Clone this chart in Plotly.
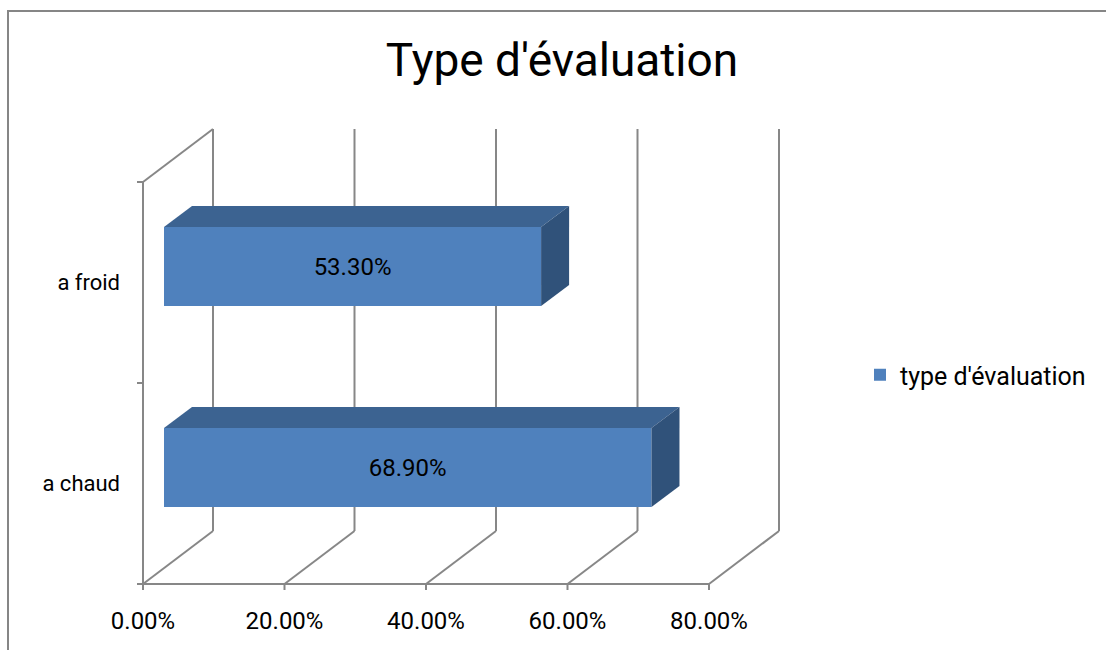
import plotly.graph_objects as go

# ---- data -------------------------------------------------------------
categories = ["a chaud", "a froid"]
values = [68.9, 53.3]          # percent
series_name = "type d'évaluation"
tick_values = [0, 20, 40, 60, 80]
tick_labels = ["0.00%", "20.00%", "40.00%", "60.00%", "80.00%"]
chart_title = "Type d'évaluation"

# ---- page / projection geometry (pixels) ------------------------------
W, H = 1106, 650
PLOT_L, PLOT_R, PLOT_T, PLOT_B = 10, 820, 100, 640
ORIGIN_X, ORIGIN_Y = 143, 584          # where value 0 / category floor sit
PX_PER_PCT = 7.075
PX_PER_CAT = 201
DEPTH_DX_PX, DEPTH_DY_PX = 70, 53      # oblique offset of the back wall

x_range = [(PLOT_L - ORIGIN_X) / PX_PER_PCT, (PLOT_R - ORIGIN_X) / PX_PER_PCT]
y_range = [-(PLOT_B - ORIGIN_Y) / PX_PER_CAT, (ORIGIN_Y - PLOT_T) / PX_PER_CAT]

DX = DEPTH_DX_PX / PX_PER_PCT          # depth offset in value units
DY = DEPTH_DY_PX / PX_PER_CAT          # depth offset in category units
BAR_FRONT, BAR_BACK = 0.3, 0.7         # bar slab position along depth
BAR_W = 0.393                          # bar thickness in category units
TICK_X = 6 / PX_PER_PCT
TICK_Y = 6 / PX_PER_CAT

FONT = "Roboto, 'Liberation Sans', sans-serif"
GRID = "#878787"
FRONT_C = "#4F81BD"
TOP_C = "#3C6391"
SIDE_C = "#30527A"

n_cat = len(categories)
cat_pos = [i + 0.5 for i in range(n_cat)]

# ---- walls, floor and axis lines --------------------------------------
shapes = []


def seg(x0, y0, x1, y1):
    shapes.append(dict(type="line", xref="x", yref="y", x0=x0, y0=y0, x1=x1, y1=y1,
                       line=dict(color=GRID, width=2), layer="below"))


for t in tick_values:
    seg(t + DX, DY, t + DX, n_cat + DY)      # back wall gridline
    seg(t, 0, t + DX, DY)                    # floor gridline
    seg(t, 0, t, -TICK_Y)                    # value tick mark
seg(0, 0, 0, n_cat)                          # left front edge
seg(0, n_cat, DX, n_cat + DY)                # left wall top edge
seg(-TICK_X, 0, tick_values[-1], 0)          # front floor edge
for k in range(n_cat + 1):
    seg(-TICK_X, k, 0, k)                    # category tick marks

# chart border
shapes.append(dict(type="rect", xref="paper", yref="paper",
                   x0=(8 - PLOT_L) / (PLOT_R - PLOT_L), x1=(1120 - PLOT_L) / (PLOT_R - PLOT_L),
                   y0=(PLOT_B - 11) / (PLOT_B - PLOT_T), y1=(PLOT_B - 670) / (PLOT_B - PLOT_T),
                   line=dict(color="#868686", width=2), layer="below"))

fig = go.Figure()

# front faces of the bars
fig.add_trace(go.Bar(
    y=[c + BAR_FRONT * DY for c in cat_pos],
    x=values,
    base=BAR_FRONT * DX,
    orientation="h",
    width=BAR_W,
    name=series_name,
    marker=dict(color=FRONT_C, line=dict(width=0)),
    text=[f"{v:.2f}%" for v in values],
    textposition="inside",
    insidetextanchor="middle",
    textangle=0,
    textfont=dict(family=FONT, size=24, color="#000000"),
    hoverinfo="skip",
    showlegend=True,
))

# top and side faces
depth = BAR_BACK - BAR_FRONT
for c, v in zip(cat_pos, values):
    x0 = BAR_FRONT * DX
    x1 = v + BAR_FRONT * DX
    yb = c + BAR_FRONT * DY - BAR_W / 2
    yt = c + BAR_FRONT * DY + BAR_W / 2
    ddx, ddy = depth * DX, depth * DY
    fig.add_trace(go.Scatter(
        x=[x0, x1, x1 + ddx, x0 + ddx, x0],
        y=[yt, yt, yt + ddy, yt + ddy, yt],
        fill="toself", fillcolor=TOP_C, mode="lines",
        line=dict(width=0, color=TOP_C), hoverinfo="skip", showlegend=False))
    fig.add_trace(go.Scatter(
        x=[x1, x1, x1 + ddx, x1 + ddx, x1],
        y=[yt, yb, yb + ddy, yt + ddy, yt],
        fill="toself", fillcolor=SIDE_C, mode="lines",
        line=dict(width=0, color=SIDE_C), hoverinfo="skip", showlegend=False))

fig.update_layout(
    width=W, height=H,
    margin=dict(l=PLOT_L, r=W - PLOT_R, t=PLOT_T, b=H - PLOT_B, autoexpand=False),
    paper_bgcolor="white", plot_bgcolor="white",
    font=dict(family=FONT, size=24, color="#000000"),
    shapes=shapes,
    title=dict(text=chart_title, x=562 / W, xanchor="center", xref="container",
               y=1 - 60 / H, yanchor="middle", yref="container",
               font=dict(family=FONT, size=46, color="#000000")),
    xaxis=dict(range=x_range, showgrid=False, zeroline=False, showline=False,
               tickvals=tick_values, ticktext=tick_labels, ticks="",
               anchor="free", position=(PLOT_B - ORIGIN_Y) / (PLOT_B - PLOT_T),
               ticklabelstandoff=20, tickfont=dict(size=24), fixedrange=True),
    yaxis=dict(range=y_range, showgrid=False, zeroline=False, showline=False,
               tickvals=cat_pos, ticktext=categories, ticks="",
               anchor="free", position=(ORIGIN_X - PLOT_L) / (PLOT_R - PLOT_L),
               ticklabelstandoff=23, tickfont=dict(size=22), fixedrange=True),
    legend=dict(x=(860 - PLOT_L) / (PLOT_R - PLOT_L), xanchor="left",
                y=(PLOT_B - 375) / (PLOT_B - PLOT_T), yanchor="middle",
                font=dict(family=FONT, size=25), bgcolor="rgba(0,0,0,0)"),
    showlegend=True,
)

fig.write_html("out.html")
